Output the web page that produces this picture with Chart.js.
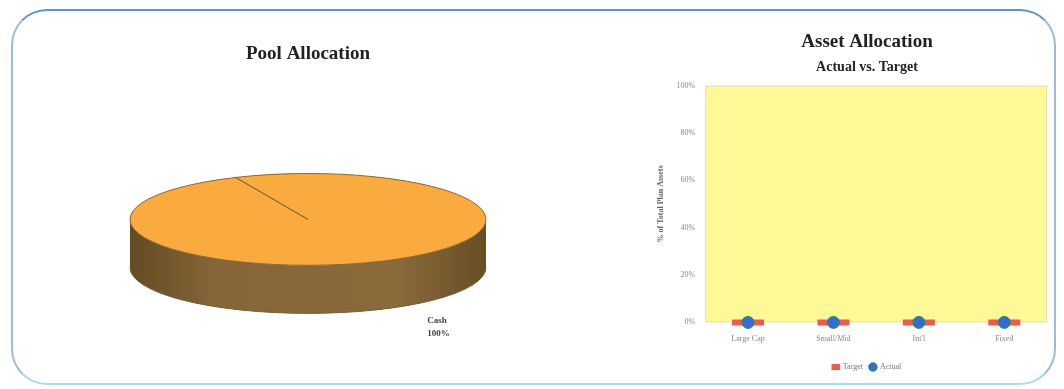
<!DOCTYPE html>
<html>
<head>
<meta charset="utf-8">
<script src="https://cdn.jsdelivr.net/npm/chart.js@4.4.1/dist/chart.umd.min.js"></script>
<style>
    html, body { margin: 0; padding: 0; background: #fff; overflow: hidden; width: 1064px; height: 389px; }
    .frame {
        position: absolute; left: 11px; top: 9px; width: 1041px; height: 372px;
        border: 2px solid #9dbbdc; border-top-color: #5b97cc; border-bottom-color: #a9dce6;
        border-radius: 36px;
    }
    #poolWrap { position: absolute; left: 20px; top: 17px; width: 586px; height: 370px; }
    #assetWrap { position: absolute; left: 650px; top: 17px; width: 434px; height: 364px; }
</style>
</head>
<body>
<div class="frame"></div>
<div id="poolWrap"><canvas id="poolChart"></canvas></div>
<div id="assetWrap"><canvas id="assetChart"></canvas></div>

<script>
// Pool allocation (pie)
const poolLabels = ['Cash'];
const poolValues = [100];
const poolColors = ['#f9ab3f'];

// Asset allocation, actual vs target (% of total plan assets)
const assetCategories = ['Large Cap', 'Small/Mid', "Int'l", 'Fixed'];
const targetPct = [0, 0, 0, 0];
const actualPct = [0, 0, 0, 0];
const yTickValues = [0, 20, 40, 60, 80, 100];

const serif = "'Liberation Serif', 'DejaVu Serif', serif";

// draws the pie as a tilted disc using the arc geometry the library computed
const pie3d = {
    id: 'pie3d',
    beforeDatasetsDraw(chart, args, opts) {
        const ctx = chart.ctx;
        const arcs = chart.getDatasetMeta(0).data;
        if (!arcs.length) return false;
        const first = arcs[0].getProps(['x', 'y', 'outerRadius'], true);
        const cx = first.x, cy = first.y;
        const rx = first.outerRadius;
        const ry = rx * opts.tilt;
        const depth = rx * opts.depth;
        const TAU = Math.PI * 2;

        ctx.save();

        // side wall (front half only)
        const grad = ctx.createLinearGradient(cx - rx, 0, cx + rx, 0);
        grad.addColorStop(0, '#654b22');
        grad.addColorStop(0.25, '#87663a');
        grad.addColorStop(0.75, '#8a6a3b');
        grad.addColorStop(1, '#684d24');
        arcs.forEach(arc => {
            const p = arc.getProps(['startAngle', 'endAngle'], true);
            let s = ((p.startAngle % TAU) + TAU) % TAU;
            const e = s + (p.endAngle - p.startAngle);
            [[0, Math.PI], [TAU, TAU + Math.PI]].forEach(([lo, hi]) => {
                const a0 = Math.max(s, lo), a1 = Math.min(e, hi);
                if (a1 <= a0) return;
                ctx.beginPath();
                ctx.ellipse(cx, cy, rx, ry, 0, a0, a1);
                ctx.ellipse(cx, cy + depth, rx, ry, 0, a1, a0, true);
                ctx.closePath();
                ctx.fillStyle = grad;
                ctx.fill();
            });
        });
        ctx.beginPath();
        ctx.ellipse(cx, cy + depth, rx, ry, 0, 0, Math.PI);
        ctx.strokeStyle = '#7a5e30';
        ctx.lineWidth = 1;
        ctx.stroke();

        // top face
        arcs.forEach((arc, i) => {
            const p = arc.getProps(['startAngle', 'endAngle'], true);
            ctx.beginPath();
            ctx.moveTo(cx, cy);
            ctx.ellipse(cx, cy, rx, ry, 0, p.startAngle, p.endAngle);
            ctx.closePath();
            ctx.fillStyle = arc.options.backgroundColor;
            ctx.fill();
            ctx.strokeStyle = '#8a6630';
            ctx.lineWidth = 1;
            ctx.stroke();
        });

        // labels
        ctx.fillStyle = '#444';
        ctx.font = 'bold 9px ' + serif;
        ctx.textAlign = 'left';
        ctx.textBaseline = 'middle';
        const total = poolValues.reduce((a, b) => a + b, 0);
        poolLabels.forEach((lab, i) => {
            const lx = cx + rx * 0.67;
            const ly = cy + ry + depth + 7;
            ctx.fillText(lab, lx, ly);
            ctx.fillText(Math.round(poolValues[i] / total * 100) + '%', lx, ly + 13);
        });

        ctx.restore();
        return false;
    }
};

new Chart(document.getElementById('poolChart'), {
    type: 'pie',
    data: {
        labels: poolLabels,
        datasets: [{
            data: poolValues,
            backgroundColor: poolColors,
            borderWidth: 0
        }]
    },
    options: {
        responsive: true,
        maintainAspectRatio: false,
        animation: false,
        radius: 178,
        rotation: -24,
        layout: { padding: { right: 10, bottom: 14 } },
        plugins: {
            legend: { display: false },
            tooltip: { enabled: false },
            title: {
                display: true,
                text: 'Pool Allocation',
                color: '#222',
                font: { family: serif, size: 19, weight: 'bold' },
                padding: { top: 26, bottom: 0 }
            },
            pie3d: { tilt: 0.258, depth: 0.27 }
        }
    },
    plugins: [pie3d]
});

// yellow plot background
const plotBackground = {
    id: 'plotBackground',
    beforeDraw(chart) {
        const { ctx, chartArea: a } = chart;
        ctx.save();
        ctx.fillStyle = '#fcf996';
        ctx.fillRect(a.left, a.top, a.width, a.height);
        ctx.strokeStyle = '#e4e2b4';
        ctx.lineWidth = 1;
        ctx.strokeRect(a.left + 0.5, a.top + 0.5, a.width - 1, a.height - 1);
        ctx.restore();
    }
};

new Chart(document.getElementById('assetChart'), {
    type: 'line',
    data: {
        labels: assetCategories,
        datasets: [
            {
                label: 'Target',
                data: targetPct,
                order: 1,
                showLine: false,
                pointStyle: 'line',
                pointRadius: 16,
                borderColor: '#ee5b48',
                backgroundColor: '#ee5b48',
                pointBorderWidth: 6,
                clip: false
            },
            {
                label: 'Actual',
                data: actualPct,
                order: 0,
                showLine: false,
                pointStyle: 'circle',
                pointRadius: 6,
                borderColor: '#2f8a66',
                backgroundColor: '#2e6fd2',
                pointBorderWidth: 1,
                clip: false
            }
        ]
    },
    options: {
        responsive: true,
        maintainAspectRatio: false,
        animation: false,
        plugins: {
            tooltip: { enabled: false },
            title: {
                display: true,
                text: 'Asset Allocation',
                color: '#222',
                font: { family: serif, size: 19, weight: 'bold' },
                padding: { top: 14, bottom: 5 }
            },
            subtitle: {
                display: true,
                text: 'Actual vs. Target',
                color: '#222',
                font: { family: serif, size: 14, weight: 'bold' },
                padding: { top: 0, bottom: 10 }
            },
            legend: {
                position: 'bottom',
                reverse: true,
                labels: {
                    usePointStyle: true,
                    boxWidth: 6,
                    boxHeight: 6,
                    padding: 7,
                    color: '#777',
                    font: { family: serif, size: 8 }
                }
            }
        },
        scales: {
            x: {
                offset: true,
                grid: { display: false, drawTicks: false },
                border: { display: false },
                ticks: { color: '#888', padding: 12, font: { family: serif, size: 8 } }
            },
            y: {
                min: 0,
                max: 100,
                afterBuildTicks(scale) {
                    scale.ticks = yTickValues.map(v => ({ value: v }));
                },
                grid: { display: false, drawTicks: false },
                border: { display: false },
                ticks: {
                    color: '#888',
                    padding: 10,
                    font: { family: serif, size: 8 },
                    callback: v => v + '%'
                },
                title: {
                    display: true,
                    text: '% of Total Plan Assets',
                    color: '#666',
                    font: { family: serif, size: 8, weight: 'bold' },
                    padding: { top: 6, bottom: 1 }
                }
            },
            // keeps the plot clear of the right edge so the titles stay centred on the canvas
            gap: {
                position: 'right',
                display: true,
                grid: { display: false },
                border: { display: false },
                ticks: { display: false },
                afterFit(scale) { scale.width = 37; }
            }
        }
    },
    plugins: [plotBackground]
});
</script>
</body>
</html>
